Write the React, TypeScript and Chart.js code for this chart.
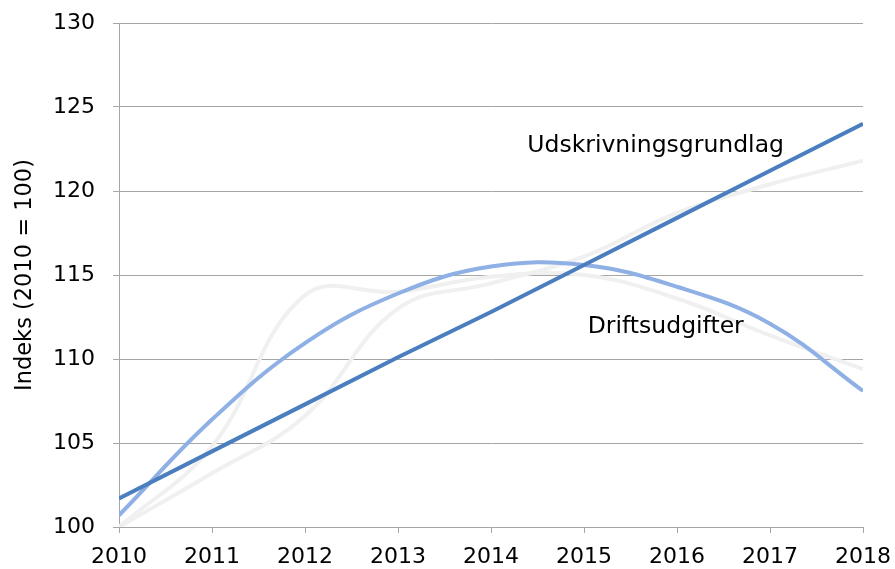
import React, { useEffect, useRef } from "react";
import { Chart, registerables } from "chart.js";

Chart.register(...registerables);

const years = [2010, 2011, 2012, 2013, 2014, 2015, 2016, 2017, 2018];
const udskrivTrend = [101.7, 104.5, 107.3, 110.1, 112.8, 115.6, 118.4, 121.2, 124.0];
const driftTrend = [100.7, 106.4, 110.95, 113.9, 115.5, 115.6, 114.3, 112.1, 108.1];
const udskrivActual = [100, 103.2, 106.6, 113.0, 114.5, 116.1, 118.7, 120.4, 121.8];
const driftActual = [100, 104.8, 113.8, 114.0, 114.9, 115.0, 113.6, 111.4, 109.4];
const yTicks = [100, 105, 110, 115, 120, 125, 130];
const seriesLabels = ["Udskrivningsgrundlag", "Driftsudgifter"];
const yTitle = "Indeks (2010 = 100)";

const FONT = "'DejaVu Sans', Verdana, sans-serif";
const GRID = "#a6a6a6";

const toPoints = (vals: number[]) => years.map((x, i) => ({ x, y: vals[i] }));

const labelPlugin = {
  id: "seriesLabels",
  afterDatasetsDraw(chart: any) {
    const { ctx, scales } = chart;
    const xs = scales.x;
    const ys = scales.y;
    const anchors = [
      { text: seriesLabels[0], x: 2014.39, y: 122.7 },
      { text: seriesLabels[1], x: 2015.04, y: 111.9 },
    ];
    ctx.save();
    ctx.font = `23.5px ${FONT}`;
    ctx.fillStyle = "#000";
    ctx.textAlign = "left";
    ctx.textBaseline = "middle";
    anchors.forEach((a) => {
      ctx.fillText(a.text, xs.getPixelForValue(a.x), ys.getPixelForValue(a.y));
    });
    ctx.restore();
  },
};

export default function App() {
  const ref = useRef<HTMLCanvasElement>(null);
  useEffect(() => {
    document.body.style.margin = "0";
    const canvas = ref.current!;
    const chart = new Chart(canvas, {
      type: "line",
      data: {
        datasets: [
          {
            label: seriesLabels[0] + " trend",
            data: toPoints(udskrivTrend),
            borderColor: "#4a7ebf",
            borderWidth: 4,
            pointRadius: 0,
            tension: 0,
          },
          {
            label: seriesLabels[1] + " trend",
            data: toPoints(driftTrend),
            borderColor: "#8eb0e5",
            borderWidth: 4,
            pointRadius: 0,
            tension: 0.4,
          },
          {
            label: seriesLabels[0],
            data: toPoints(udskrivActual),
            borderColor: "#f0f0f0",
            borderWidth: 4,
            pointRadius: 0,
            tension: 0.4,
          },
          {
            label: seriesLabels[1],
            data: toPoints(driftActual),
            borderColor: "#f0f0f0",
            borderWidth: 4,
            pointRadius: 0,
            tension: 0.4,
          },
        ],
      },
      options: {
        animation: false,
        responsive: false,
        maintainAspectRatio: false,
        layout: { padding: { top: 23, right: 32, left: 0, bottom: 0 } },
        plugins: { legend: { display: false }, tooltip: { enabled: false } },
        scales: {
          x: {
            type: "linear",
            min: years[0],
            max: years[years.length - 1],
            afterBuildTicks: (s: any) => {
              s.ticks = years.map((v) => ({ value: v }));
            },
            afterFit: (s: any) => {
              s.height = 42;
              s.paddingLeft = 0;
              s.paddingRight = 0;
            },
            ticks: {
              font: { family: FONT, size: 22 },
              color: "#000",
              padding: 11,
              maxRotation: 0,
              autoSkip: false,
              callback: (v: any) => String(v),
            },
            grid: { drawOnChartArea: false, drawTicks: true, tickLength: 6, color: GRID },
            border: { display: true, color: GRID },
          },
          y: {
            min: 100,
            max: 130,
            afterBuildTicks: (s: any) => {
              s.ticks = yTicks.map((v) => ({ value: v }));
            },
            afterFit: (s: any) => {
              s.width = 119;
              s.paddingTop = 0;
              s.paddingBottom = 0;
            },
            ticks: {
              font: { family: FONT, size: 22 },
              color: "#000",
              padding: 18,
              callback: (v: any) => String(v),
            },
            grid: { drawOnChartArea: true, drawTicks: true, tickLength: 6, color: GRID },
            border: { display: true, color: GRID },
            title: {
              display: true,
              text: yTitle,
              font: { family: FONT, size: 22.5 },
              color: "#000",
              padding: { top: 12, bottom: 0 },
            },
          },
        },
      },
      plugins: [labelPlugin],
    });
    return () => chart.destroy();
  }, []);
  return <canvas ref={ref} width={895} height={569} style={{ display: "block" }} />;
}
